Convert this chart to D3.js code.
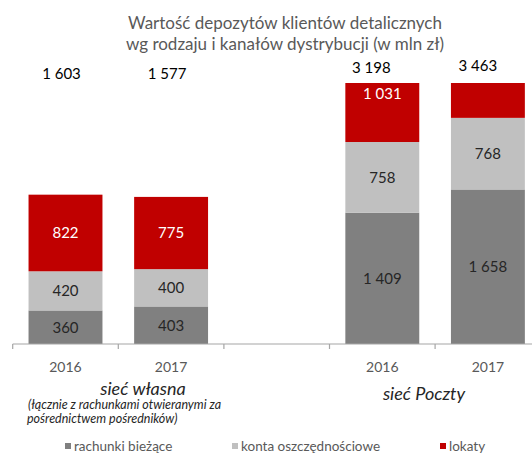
<!DOCTYPE html>
<html>
<head>
<meta charset="utf-8">
<title>Depozyty</title>
<script src="https://d3js.org/d3.v7.min.js"></script>
<style>
  body { margin: 0; background: #fff; }
  svg { font-family: Lato, "Open Sans", sans-serif; }
</style>
</head>
<body>
<div id="chart"></div>
<script>
// slots on the x axis (third slot is an empty gap, like in the original)
const slots = ["w2016", "w2017", "gap", "p2016", "p2017"];
const years = ["2016", "2017", "", "2016", "2017"];
const seriesNames = ["rachunki bieżące", "konta oszczędnościowe", "lokaty"];
const rachunki = [360, 403, null, 1409, 1658];
const konta = [420, 400, null, 758, 768];
const lokaty = [822, 775, null, 1031, 1037];
const totals = ["1 603", "1 577", "", "3 198", "3 463"];
const groupNames = ["sieć własna", "sieć Poczty"];
const note = ["(łącznie z rachunkami otwieranymi za", "pośrednictwem pośredników)"];
const title = ["Wartość depozytów klientów detalicznych", "wg rodzaju i kanałów dystrybucji (w mln zł)"];

const colors = ["#808080", "#C0C0C0", "#C00000"];
const labelColors = ["#262626", "#262626", "#ffffff"];

const W = 532, H = 456;
const plotTop = 83, plotBottom = 344;

const svg = d3.select("#chart").append("svg")
    .attr("width", W).attr("height", H);

// x: one band per slot, bars are centered in their slot
const x = d3.scaleBand()
    .domain(slots)
    .range([12.7, 540.7])
    .paddingInner(0.3)
    .paddingOuter(0.15);

const y = d3.scaleLinear()
    .domain([0, 2800])
    .range([plotBottom, plotTop]);

const rows = slots.map((s, i) => ({
  slot: s, rachunki: rachunki[i], konta: konta[i], lokaty: lokaty[i]
})).filter(d => d.rachunki !== null);

const stack = d3.stack().keys(["rachunki", "konta", "lokaty"]);
const layers = stack(rows);

svg.append("clipPath").attr("id", "plot")
  .append("rect").attr("x", 0).attr("y", plotTop).attr("width", W).attr("height", plotBottom - plotTop);

const gBars = svg.append("g").attr("clip-path", "url(#plot)");
layers.forEach((layer, k) => {
  gBars.selectAll(null)
    .data(layer)
    .enter().append("rect")
      .attr("x", d => x(d.data.slot))
      .attr("width", x.bandwidth())
      .attr("y", d => y(d[1]))
      .attr("height", d => y(d[0]) - y(d[1]))
      .attr("fill", colors[k]);
});

// segment value labels (hidden when centre falls outside the plot, like Excel)
const fmt = v => d3.format(",")(v).replace(/,/g, " ");
layers.forEach((layer, k) => {
  svg.selectAll(null)
    .data(layer.filter(d => y((d[0] + d[1]) / 2) > plotTop))
    .enter().append("text")
      .attr("x", d => x(d.data.slot) + x.bandwidth() / 2)
      .attr("y", d => y((d[0] + d[1]) / 2))
      .attr("dy", "0.36em")
      .attr("text-anchor", "middle")
      .attr("font-size", "15px")
      .attr("fill", labelColors[k])
      .text(d => fmt(d.data[layer.key]));
});

// totals above the bars
const totalNudge = [[-4, 79], [-4, 79], [0, 0], [-11, 73], [-10, 71]];
svg.selectAll(null)
  .data(slots.map((s, i) => ({ slot: s, i: i })).filter(d => totals[d.i] !== ""))
  .enter().append("text")
    .attr("x", d => x(d.slot) + x.bandwidth() / 2 + totalNudge[d.i][0])
    .attr("y", d => totalNudge[d.i][1])
    .attr("text-anchor", "middle")
    .attr("font-size", "15px")
    .attr("fill", "#000")
    .text(d => totals[d.i]);

// x axis: line, boundary ticks, year labels
const step = x.step();
const gAxis = svg.append("g").attr("transform", "translate(0," + plotBottom + ")");
gAxis.append("line")
  .attr("x1", x.range()[0]).attr("x2", W)
  .attr("stroke", "#A6A6A6").attr("stroke-width", 1.2);
gAxis.selectAll("line.tick")
  .data(slots)
  .enter().append("line").attr("class", "tick")
    .attr("x1", d => x(d) - step * 0.15).attr("x2", d => x(d) - step * 0.15)
    .attr("y1", 0).attr("y2", 5)
    .attr("stroke", "#A6A6A6").attr("stroke-width", 1.2);
gAxis.selectAll("text")
  .data(slots)
  .enter().append("text")
    .attr("x", d => x(d) + x.bandwidth() / 2)
    .attr("y", 28)
    .attr("text-anchor", "middle")
    .attr("font-size", "14px")
    .attr("fill", "#595959")
    .text((d, i) => years[i]);

// group labels
svg.append("text")
  .attr("x", 143).attr("y", 395)
  .attr("text-anchor", "middle")
  .attr("font-size", "18px").attr("font-style", "italic")
  .attr("fill", "#262626")
  .text(groupNames[0]);
svg.append("text")
  .attr("x", 424).attr("y", 400)
  .attr("text-anchor", "middle")
  .attr("font-size", "18px").attr("font-style", "italic")
  .attr("fill", "#262626")
  .text(groupNames[1]);
svg.selectAll(null)
  .data(note)
  .enter().append("text")
    .attr("x", (d, i) => i === 0 ? 28 : 27)
    .attr("y", (d, i) => 409 + i * 14)
    .attr("font-size", "12.5px").attr("font-style", "italic")
    .attr("fill", "#262626")
    .text(d => d);

// title
svg.selectAll(null)
  .data(title)
  .enter().append("text")
    .attr("x", 285)
    .attr("y", (d, i) => 29 + i * 21)
    .attr("text-anchor", "middle")
    .attr("font-size", "17px")
    .attr("fill", "#595959")
    .text(d => d);

// legend
const legendX = [65, 232, 440];
const gLeg = svg.append("g").attr("transform", "translate(0,446)");
const items = gLeg.selectAll("g").data(seriesNames).enter().append("g")
  .attr("transform", (d, i) => "translate(" + legendX[i] + ",0)");
items.append("rect")
  .attr("x", 0).attr("y", -3).attr("width", 6).attr("height", 6)
  .attr("fill", (d, i) => colors[i]);
items.append("text")
  .attr("x", 9).attr("dy", "0.35em")
  .attr("font-size", "13.5px")
  .attr("fill", "#595959")
  .text(d => d);
</script>
</body>
</html>
